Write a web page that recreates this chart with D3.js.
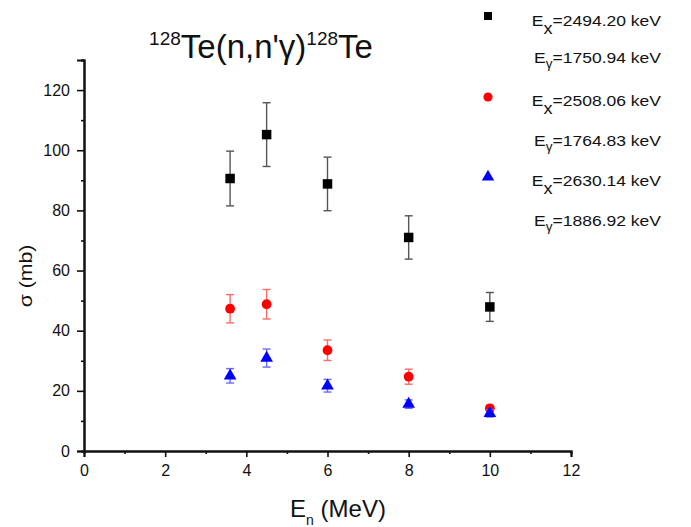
<!DOCTYPE html>
<html><head><meta charset="utf-8">
<script src="https://cdn.jsdelivr.net/npm/d3@7"></script>
<style>body{margin:0;background:#fff}svg{display:block}text{font-family:"Liberation Sans",Arial,sans-serif}</style>
</head><body><div id="c"></div>
<script>
const energies = [3.6, 4.5, 6, 8, 10];
const sigma2494 = [90.6, 105.2, 88.8, 71.0, 47.9];
const err2494 = [9.1, 10.6, 8.9, 7.2, 4.8];
const sigma2508 = [47.3, 48.8, 33.5, 24.7, 14.2];
const err2508 = [4.7, 4.9, 3.4, 2.5, 0.9];
const sigma2630 = [25.0, 30.9, 21.7, 15.6, 12.5];
const err2630 = [2.4, 3.0, 2.1, 1.4, 1.2];
const xTicks = [0, 2, 4, 6, 8, 10, 12];
const yTicks = [0, 20, 40, 60, 80, 100, 120];
const legendLines = [["x","2494.20"],["γ","1750.94"],["x","2508.06"],["γ","1764.83"],["x","2630.14"],["γ","1886.92"]];

const W = 691, H = 527;
const svg = d3.select("#c").append("svg").attr("width", W).attr("height", H);
const x = d3.scaleLinear().domain([0, 12]).range([84, 571]);
const y = d3.scaleLinear().domain([0, 130]).range([451, 60]);

function styleAxis(g) {
  g.select(".domain").attr("stroke-width", 2).attr("stroke", "#111");
  g.selectAll(".tick line").attr("stroke-width", 1.6).attr("stroke", "#111");
}
// minor ticks
const gxm = svg.append("g").attr("transform", "translate(0,451)")
  .call(d3.axisBottom(x).tickValues(d3.range(1, 12, 2)).tickSize(3).tickFormat(""));
const gym = svg.append("g").attr("transform", "translate(84,0)")
  .call(d3.axisLeft(y).tickValues(d3.range(10, 131, 20)).tickSize(3).tickFormat(""));
// major ticks
const gx = svg.append("g").attr("transform", "translate(0,451)")
  .call(d3.axisBottom(x).tickValues(xTicks).tickSize(6).tickPadding(8).tickFormat(d3.format("d")));
const gy = svg.append("g").attr("transform", "translate(84,0)")
  .call(d3.axisLeft(y).tickValues(yTicks).tickSize(7).tickPadding(7).tickFormat(d3.format("d")));
[gxm, gym, gx, gy].forEach(styleAxis);
gx.selectAll(".tick text").attr("font-size", 16).attr("fill", "#111");
gy.selectAll(".tick text").attr("font-size", 16).attr("fill", "#111");

// axis titles
svg.append("text").attr("transform", "translate(32,276) rotate(-90) scale(1.12,1)").attr("text-anchor", "middle")
  .attr("font-size", 19).attr("fill", "#111").text("σ (mb)");
const xl = svg.append("text").attr("x", 338).attr("y", 517).attr("text-anchor", "middle").attr("font-size", 24).attr("fill", "#111");
xl.append("tspan").text("E");
xl.append("tspan").attr("font-size", 14).attr("dy", 8).text("n");
xl.append("tspan").attr("dy", -8).text(" (MeV)");

// title
const t = svg.append("text").attr("x", 261).attr("y", 58).attr("text-anchor", "middle").attr("font-size", 33).attr("fill", "#111");
t.append("tspan").attr("font-size", 19).attr("dy", -13).text("128");
t.append("tspan").attr("dy", 13).text("Te(n,n'γ)");
t.append("tspan").attr("font-size", 19).attr("dy", -13).text("128");
t.append("tspan").attr("dy", 13).text("Te");

// data
const series = [
  {v: sigma2494, e: err2494, fill: "#000", ecol: "#555", shape: d3.symbolSquare, size: 90},
  {v: sigma2508, e: err2508, fill: "#ff0000", ecol: "#ff6a6a", shape: d3.symbolCircle, size: 75},
  {v: sigma2630, e: err2630, fill: "#0000ff", ecol: "#6a6aff", shape: d3.symbolTriangle, size: 70}
];
series.forEach(s => {
  const g = svg.append("g");
  energies.forEach((en, i) => {
    const cx = x(en), y1 = y(s.v[i] + s.e[i]), y0 = y(s.v[i] - s.e[i]);
    g.append("line").attr("x1", cx).attr("x2", cx).attr("y1", y1).attr("y2", y0).attr("stroke", s.ecol).attr("stroke-width", 1.4);
    g.append("line").attr("x1", cx - 4).attr("x2", cx + 4).attr("y1", y1).attr("y2", y1).attr("stroke", s.ecol).attr("stroke-width", 1.4);
    g.append("line").attr("x1", cx - 4).attr("x2", cx + 4).attr("y1", y0).attr("y2", y0).attr("stroke", s.ecol).attr("stroke-width", 1.4);
    g.append("path").attr("d", d3.symbol().type(s.shape).size(s.size)()).attr("transform", `translate(${cx},${y(s.v[i])})`).attr("fill", s.fill);
  });
});

// legend
const legY = [16, 97, 177];
series.forEach((s, k) => {
  svg.append("path").attr("d", d3.symbol().type(s.shape).size(k === 0 ? 64 : 66)()).attr("transform", `translate(488,${legY[k]})`).attr("fill", s.fill);
});
const legBase = [26, 63, 106, 146, 186, 226];
legendLines.forEach((d, j) => {
  const g = svg.append("g").attr("transform", `translate(661,${legBase[j]}) scale(1.13,1)`);
  const tx = g.append("text").attr("x", 0).attr("y", 0).attr("text-anchor", "end").attr("font-size", 15.5).attr("fill", "#111");
  tx.append("tspan").text("E");
  if (d[0] === "x") tx.append("tspan").attr("font-size", 16).attr("dy", 8).text("x");
  else tx.append("tspan").attr("font-size", 12).attr("dy", 5).text("γ");
  tx.append("tspan").attr("dy", d[0] === "x" ? -8 : -5).text("=" + d[1] + " keV");
});
</script></body></html>
